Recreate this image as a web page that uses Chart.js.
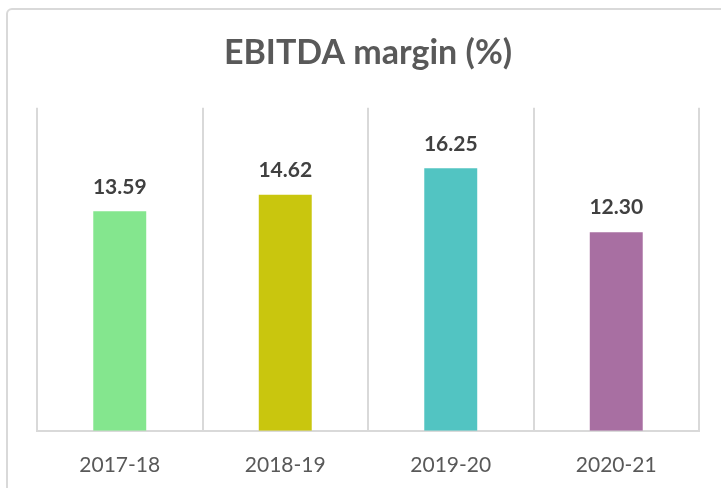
<!DOCTYPE html>
<html>
<head>
<meta charset="utf-8">
<script src="https://cdn.jsdelivr.net/npm/chart.js@4"></script>
<style>
  html, body { margin: 0; padding: 0; background: #fff; }
  #wrap { position: relative; width: 721px; height: 488px; overflow: hidden; }
  #frame { position: absolute; left: 6px; top: 8px; width: 740px; height: 520px;
           border: 2px solid #d9d9d9; border-radius: 6px; box-sizing: border-box; }
  canvas { position: absolute; left: 0; top: 0; }
</style>
</head>
<body>
<div id="wrap">
  <div id="frame"></div>
  <canvas id="chart" width="721" height="488"></canvas>
</div>
<script>
const years = ['2017-18', '2018-19', '2019-20', '2020-21'];
const margins = [13.59, 14.62, 16.25, 12.30];
const barColors = ['#84e68e', '#c9c60e', '#52c4c2', '#a86fa2'];

const FONT = 'Lato, "Open Sans", sans-serif';

// draws the value above each bar
const valueLabels = {
    id: 'valueLabels',
    afterDatasetsDraw(chart) {
        const ctx = chart.ctx;
        const meta = chart.getDatasetMeta(0);
        ctx.save();
        ctx.font = 'bold 21px ' + FONT;
        ctx.fillStyle = '#404040';
        ctx.textAlign = 'center';
        ctx.textBaseline = 'bottom';
        meta.data.forEach((bar, i) => {
            ctx.fillText(margins[i].toFixed(2), bar.x, bar.y - 14);
        });
        ctx.restore();
    }
};

const chart = new Chart(document.getElementById('chart'), {
    type: 'bar',
    data: {
        labels: years,
        datasets: [{
            label: 'EBITDA margin (%)',
            data: margins,
            backgroundColor: barColors,
            borderWidth: 0,
            categoryPercentage: 1,
            barPercentage: 0.32
        }]
    },
    options: {
        responsive: false,
        animation: false,
        layout: { padding: { left: 37, right: 22, top: 0, bottom: -12 } },
        plugins: {
            legend: { display: false },
            tooltip: { enabled: false },
            title: {
                display: true,
                text: 'EBITDA margin (%)',
                color: '#595959',
                font: { family: FONT, size: 34, weight: 'bold' },
                padding: { top: 33, bottom: 34 }
            }
        },
        scales: {
            x: {
                offset: true,
                grid: { display: true, offset: true, color: '#d9d9d9', lineWidth: 2, drawTicks: false },
                border: { display: true, color: '#d9d9d9', width: 2 },
                ticks: { color: '#595959', font: { family: FONT, size: 21 }, padding: 22 }
            },
            y: {
                display: false,
                min: 0,
                max: 20
            }
        }
    },
    plugins: [valueLabels]
});
</script>
</body>
</html>
